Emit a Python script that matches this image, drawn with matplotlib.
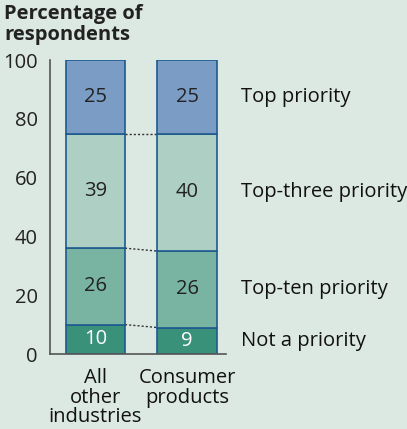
import matplotlib.pyplot as plt

groups = ["All\nother\nindustries", "Consumer\nproducts"]
segments = ["Not a priority", "Top-ten priority", "Top-three priority", "Top priority"]
all_other = [10, 26, 39, 25]
consumer = [9, 26, 40, 25]
yticks = [0, 20, 40, 60, 80, 100]

bg = "#dce8e2"
colors = ["#3a9179", "#79b3a1", "#aecfc4", "#7b9cc4"]
text_colors = ["white", "#222222", "#222222", "#222222"]
edge = "#1f5a8f"
fs = 14.5

plt.rcParams['font.family'] = ['Open Sans', 'Noto Sans', 'DejaVu Sans']

fig = plt.figure(figsize=(4.07, 4.29), dpi=100, facecolor=bg)
ax = fig.add_axes([50 / 407, 1 - 354 / 429, 176 / 407, 294 / 429])
ax.set_facecolor(bg)

width = 0.645
xs = [0, 1]
series = [all_other, consumer]
for x, vals in zip(xs, series):
    bottom = 0
    for i, v in enumerate(vals):
        ax.bar(x, v, width, bottom=bottom, color=colors[i], edgecolor=edge, linewidth=1.2, zorder=2)
        ax.text(x, bottom + v / 2, str(v), ha="center", va="center",
                fontsize=fs, color=text_colors[i], zorder=3)
        bottom += v

# dotted connectors between segment tops
b0 = 0
b1 = 0
for i in range(len(segments) - 1):
    b0 += all_other[i]
    b1 += consumer[i]
    ax.plot([xs[0] + width / 2, xs[1] - width / 2], [b0, b1], ls=(0, (1.5, 1.5)),
            color="#333333", lw=1, zorder=1)

# segment names to the right of the bars
b1 = 0
for i, name in enumerate(segments):
    ax.text(1.59, b1 + consumer[i] / 2, name, ha="left", va="center",
            fontsize=fs, color="#111111", clip_on=False)
    b1 += consumer[i]

ax.set_xlim(-0.497, 1.426)
ax.set_ylim(0, 100)
ax.set_yticks(yticks)
ax.set_yticklabels([str(t) for t in yticks], fontsize=fs, color="#222222")
ax.tick_params(axis="y", length=0, pad=9)
ax.set_xticks(xs)
ax.set_xticklabels(groups, fontsize=fs, color="#111111", linespacing=0.98)
ax.tick_params(axis="x", length=0, pad=10)
for s in ["top", "right"]:
    ax.spines[s].set_visible(False)
ax.spines["left"].set_color("#555555")
ax.spines["bottom"].set_color("#555555")
ax.spines["left"].set_linewidth(1.2)
ax.spines["bottom"].set_linewidth(1.2)

fig.text(4 / 407, 1 - 4 / 429, "Percentage of\nrespondents", ha="left", va="top",
         fontsize=fs, fontweight="bold", color="#222222", linespacing=1.05)

fig.savefig("out.png", dpi=100, facecolor=bg)
